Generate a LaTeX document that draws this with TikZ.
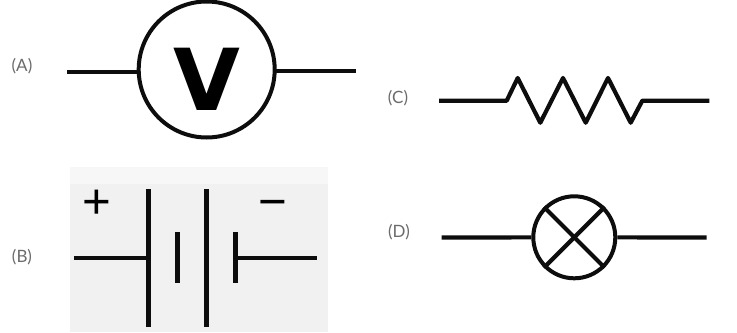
\documentclass[tikz,border=0pt]{standalone}
\usepackage{fontspec}
\setmainfont{Lato}
\newfontfamily\symfont{Liberation Sans}
\newfontfamily\heavyfont{DejaVu Sans}
\begin{document}
\begin{tikzpicture}[x=0.03cm, y=-0.03cm,
	wire/.style={line width=4.2*0.03cm, black!95},
	ring/.style={circle, draw, inner sep=0pt, line width=4*0.03cm, black!95},
	tag/.style={text=black!58, font=\fontsize{14.5}{15}\selectfont},
	sign/.style={inner sep=0pt, font=\symfont\fontsize{42}{42}\selectfont}]
	\useasboundingbox (0, 0) rectangle (737, 332);
	% labels
	\node[tag] (tagA) at (22, 66) {(A)};
	\node[tag] (tagB) at (22, 257) {(B)};
	\node[tag] (tagC) at (398, 98) {(C)};
	\node[tag] (tagD) at (399, 232) {(D)};
	% voltmeter
	\node[ring, minimum size=136*0.03cm] (volt) at (206.7, 69.5) {};
	\node[inner sep=0pt, font=\heavyfont\bfseries\fontsize{73}{73}\selectfont, xscale=1.01] (voltV) at (206.7, 79) {V};
	\coordinate (voltL) at (67, 72);
	\coordinate (voltLin) at (139, 72);
	\coordinate (voltRin) at (274, 71);
	\coordinate (voltR) at (356, 71);
	\draw[wire] (voltL) -- (voltLin);
	\draw[wire] (voltRin) -- (voltR);
	% battery
	\fill[black!3] (70, 167) rectangle (328, 184);
	\fill[black!5.5] (70, 184) rectangle (328, 332);
	\node[sign] (plus) at (97.3, 204) {+};
	\node[sign] (minus) at (273, 209) {−};
	\coordinate (longAt) at (148.3, 189);
	\coordinate (longAb) at (148.3, 327);
	\coordinate (longBt) at (206.7, 189);
	\coordinate (longBb) at (206.7, 327);
	\coordinate (shortAt) at (177.3, 232);
	\coordinate (shortAb) at (177.3, 283);
	\coordinate (shortBt) at (235.7, 232);
	\coordinate (shortBb) at (235.7, 283);
	\coordinate (battL) at (74, 257.7);
	\coordinate (battLin) at (148.3, 257.7);
	\coordinate (battRin) at (235.7, 257.7);
	\coordinate (battR) at (317.3, 257.7);
	\draw[wire, line width=5*0.03cm] (longAt) -- (longAb);
	\draw[wire, line width=5*0.03cm] (longBt) -- (longBb);
	\draw[wire, line width=5*0.03cm] (shortAt) -- (shortAb);
	\draw[wire, line width=5*0.03cm] (shortBt) -- (shortBb);
	\draw[wire] (battL) -- (battLin);
	\draw[wire] (battRin) -- (battR);
	% resistor
	\coordinate (resL) at (439, 100.7);
	\coordinate (resR) at (709.3, 100.7);
	\draw[wire, line join=round] (resL) -- (506.7, 100.7) -- (517.7, 78) -- (540.3, 122.7) -- (563, 78) -- (585.7, 122.7) -- (608, 78) -- (630.7, 122.7) -- (642.3, 100.7) -- (resR);
	% lamp
	\node[ring, minimum size=82*0.03cm] (lamp) at (574.3, 237.3) {};
	\coordinate (lampL) at (441.7, 237.5);
	\coordinate (lampR) at (706.7, 237.5);
	\draw[wire] (lampL) -- (lamp);
	\draw[wire] (lamp) -- (lampR);
	\draw[wire] (lamp.45) -- (lamp.225);
	\draw[wire] (lamp.135) -- (lamp.315);
\end{tikzpicture}
\end{document}
